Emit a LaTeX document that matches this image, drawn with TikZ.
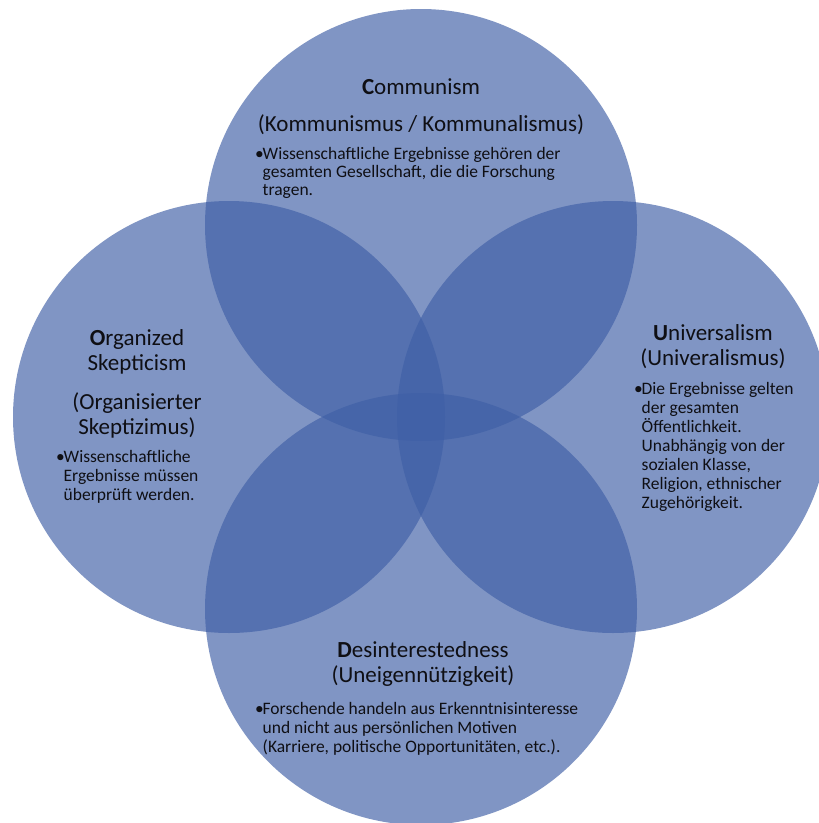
\documentclass[tikz,border=0pt]{standalone}
\usepackage{fontspec}
\setmainfont{Carlito}
\definecolor{circfill}{RGB}{63,95,166}
\definecolor{txt}{RGB}{15,15,20}
\begin{document}
\begin{tikzpicture}[x=1bp,y=-1bp]
\tikzset{
  circ/.style={fill=circfill, fill opacity=0.66, draw=none},
  ttl/.style={inner sep=0pt, anchor=base, text=txt, font=\fontsize{23bp}{25bp}\selectfont},
  blt/.style={inner sep=0pt, anchor=base west, text=txt, font=\fontsize{17.5bp}{19bp}\selectfont},
  blttop/.style={blt, font=\fontsize{17.5bp}{18bp}\selectfont},
}
\newcommand{\bul}{\makebox[7.5bp][l]{•}}
\useasboundingbox (0,0) rectangle (819,823);
\clip (0,0) rectangle (819,823);
\fill[white] (0,0) rectangle (819,823);
% circles
\fill[circ] (421,225) circle[radius=216];
\fill[circ] (613,417) circle[radius=216];
\fill[circ] (421,609) circle[radius=216];
\fill[circ] (229,417) circle[radius=216];
% top: Communism
\node[ttl] (cT1) at (421,94) {\textbf{C}ommunism};
\node[ttl] (cT2) at (421,131) {(Kommunismus / Kommunalismus)};
\node[blttop] (cB) at (255,159) {\begin{tabular}[t]{@{}l@{}l@{}}\bul & Wissenschaftliche Ergebnisse gehören der\\ & gesamten Gesellschaft, die die Forschung\\ & tragen.\end{tabular}};
% left: Organized Skepticism
\node[ttl] (oT1) at (137,345) {\begin{tabular}[t]{@{}c@{}}\textbf{O}rganized\\Skepticism\end{tabular}};
\node[ttl] (oT2) at (137,409) {\begin{tabular}[t]{@{}c@{}}(Organisierter\\Skeptizimus)\end{tabular}};
\node[blt] (oB) at (56,462) {\begin{tabular}[t]{@{}l@{}l@{}}\bul & Wissenschaftliche\\ & Ergebnisse müssen\\ & überprüft werden.\end{tabular}};
% right: Universalism
\node[ttl] (uT) at (713,340) {\begin{tabular}[t]{@{}c@{}}\textbf{U}niversalism\\(Univeralismus)\end{tabular}};
\node[blt] (uB) at (634,394) {\begin{tabular}[t]{@{}l@{}l@{}}\bul & Die Ergebnisse gelten\\ & der gesamten\\ & Öffentlichkeit.\\ & Unabhängig von der\\ & sozialen Klasse,\\ & Religion, ethnischer\\ & Zugehörigkeit.\end{tabular}};
% bottom: Desinterestedness
\node[ttl] (dT) at (423,657) {\begin{tabular}[t]{@{}c@{}}\textbf{D}esinterestedness\\(Uneigennützigkeit)\end{tabular}};
\node[blt] (dB) at (255,714) {\begin{tabular}[t]{@{}l@{}l@{}}\bul & Forschende handeln aus Erkenntnisinteresse\\ & und nicht aus persönlichen Motiven\\ & (Karriere, politische Opportunitäten, etc.).\end{tabular}};
\end{tikzpicture}
\end{document}
